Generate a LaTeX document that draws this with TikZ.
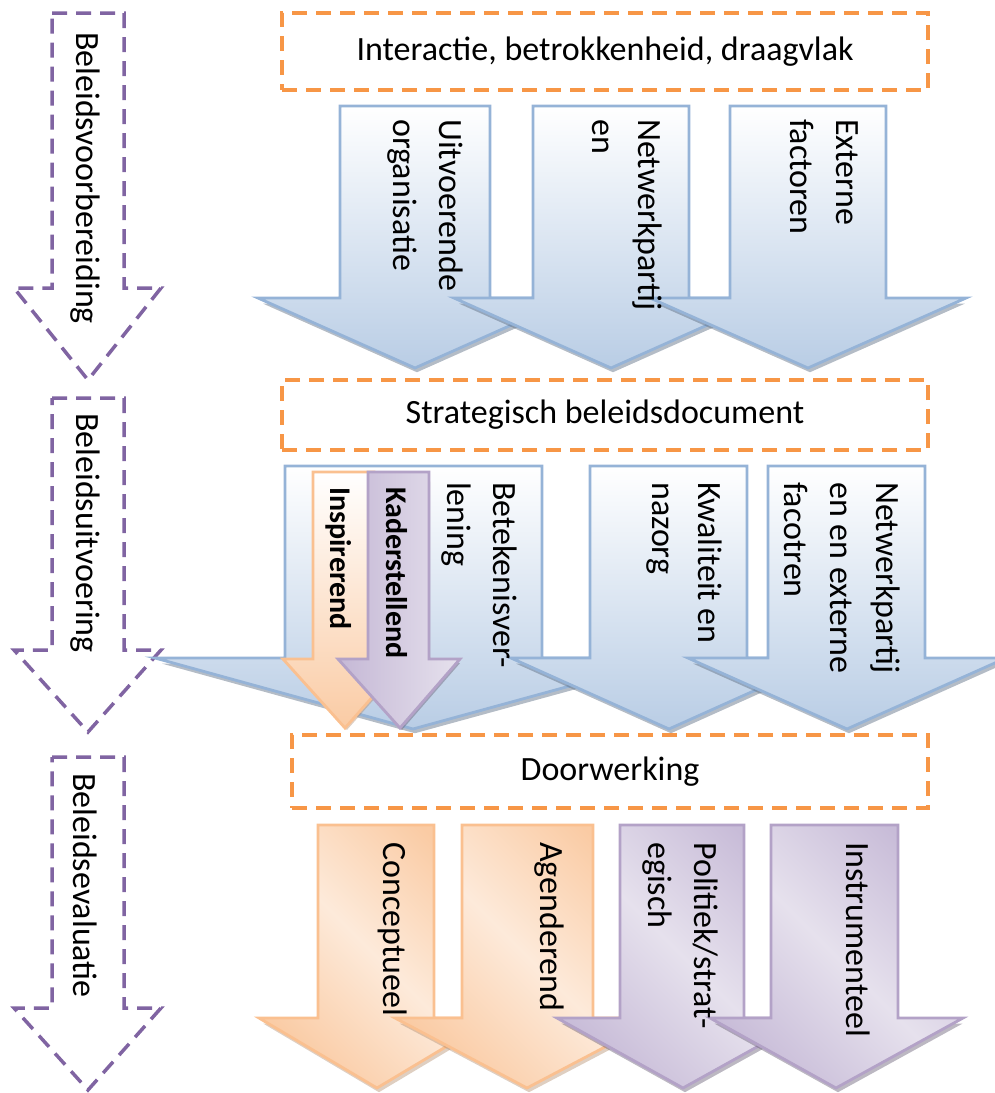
\documentclass[tikz,border=0pt]{standalone}
\usepackage{fontspec}
\setmainfont{Carlito}
\usetikzlibrary{shadows}
\definecolor{bluebd}{RGB}{149,179,215}
\definecolor{bluefill}{RGB}{185,205,229}
\definecolor{orangebd}{RGB}{250,192,144}
\definecolor{orangefill}{RGB}{250,203,164}
\definecolor{orangelight}{RGB}{253,234,218}
\definecolor{purplebd}{RGB}{179,162,199}
\definecolor{purplefill}{RGB}{200,188,216}
\definecolor{purplelight}{RGB}{230,225,237}
\definecolor{dashorange}{RGB}{247,150,70}
\definecolor{dashpurple}{RGB}{128,100,162}

\begin{document}
\begin{tikzpicture}[x=1pt,y=-1pt,
  fase/.style={draw=dashpurple,line width=3.5pt,dash pattern=on 15pt off 9pt},
  fasetekst/.style={rotate=-90,anchor=west,inner sep=0pt,font=\fontsize{34}{46}\selectfont},
  kader/.style={draw=dashorange,line width=3.5pt,dash pattern=on 15pt off 9pt,inner sep=0pt,
    font=\fontsize{34}{46}\selectfont},
  blauw/.style={draw=bluebd,line width=2.8pt,top color=white,bottom color=bluefill,
    drop shadow={shadow xshift=2pt,shadow yshift=-7pt,shadow scale=.98,opacity=.45,fill=bluebd!60!black}},
  oranje/.style={draw=orangebd,line width=2.8pt,left color=orangefill,right color=orangefill,
    middle color=orangelight,shading angle=135,
    drop shadow={shadow xshift=2pt,shadow yshift=-7pt,shadow scale=.98,opacity=.4,fill=orangebd!70!black}},
  paars/.style={draw=purplebd,line width=2.8pt,left color=purplefill,right color=purplefill,
    middle color=purplelight,shading angle=135,
    drop shadow={shadow xshift=2pt,shadow yshift=-7pt,shadow scale=.98,opacity=.45,fill=purplebd!60!black}},
  oranjeklein/.style={draw=orangebd,line width=2.8pt,top color=white,bottom color=orangefill,
    drop shadow={shadow xshift=2pt,shadow yshift=-6pt,shadow scale=.97,opacity=.4,fill=orangebd!70!black}},
  paarsklein/.style={draw=purplebd,line width=2.8pt,left color=purplefill!85!purplebd,right color=purplelight,
    drop shadow={shadow xshift=2pt,shadow yshift=-6pt,shadow scale=.97,opacity=.45,fill=purplebd!60!black}},
  pijltekst/.style={rotate=-90,anchor=north west,inner sep=0pt,align=left,font=\fontsize{34}{46}\selectfont},
  vet/.style={pijltekst,font=\fontsize{30}{40}\selectfont\bfseries}]
\useasboundingbox (0,0) rectangle (995,1093);

\draw[fase] (52,13) -- (124,13) -- (124,288) -- (161,288) -- (88,380) -- (14,288) -- (52,288) -- cycle;
\node[fasetekst] (voorbereiding) at (85,32) {Beleidsvoorbereiding};
\draw[fase] (52,398) -- (124,398) -- (124,650) -- (161,650) -- (88,732) -- (14,650) -- (52,650) -- cycle;
\node[fasetekst] (uitvoering) at (85,413) {Beleidsuitvoering};
\draw[fase] (52,757) -- (124,757) -- (124,1008) -- (161,1008) -- (88,1090) -- (14,1008) -- (52,1008) -- cycle;
\node[fasetekst] (evaluatie) at (85,773) {Beleidsevaluatie};

\node[kader,minimum width=646pt,minimum height=77pt] (interactie) at (605,51.5) {Interactie, betrokkenheid, draagvlak};
\node[kader,minimum width=646pt,minimum height=70pt] (strategisch) at (605,415) {Strategisch beleidsdocument};
\node[kader,minimum width=636pt,minimum height=73pt] (doorwerking) at (610,771.5) {Doorwerking};

\draw[blauw] (340,106) -- (490,106) -- (490,298) -- (572,298) -- (415,368) -- (258,298) -- (340,298) -- cycle;
\draw[blauw] (533,106) -- (689,106) -- (689,298) -- (768,298) -- (611,368) -- (454,298) -- (533,298) -- cycle;
\draw[blauw] (730,106) -- (886,106) -- (886,298) -- (966,298) -- (808,368) -- (650,298) -- (730,298) -- cycle;
\node[pijltekst] (uitvoerend) at (463,119) {Uitvoerende\\organisatie};
\node[pijltekst] (netwerk) at (662,119) {Netwerkpartij\\en};
\node[pijltekst] (extern) at (859,119) {Externe\\factoren};

\draw[blauw] (285,466) -- (542,466) -- (542,658) -- (672,658) -- (413,729) -- (155,658) -- (285,658) -- cycle;
\draw[blauw] (590,466) -- (747,466) -- (747,658) -- (827,658) -- (669,729) -- (511,658) -- (590,658) -- cycle;
\draw[blauw] (768,466) -- (925,466) -- (925,658) -- (1006,658) -- (847,729) -- (688,658) -- (768,658) -- cycle;
\draw[oranjeklein] (313,472) -- (374,472) -- (374,659) -- (406,659) -- (345,728) -- (283,659) -- (313,659) -- cycle;
\draw[paarsklein] (368,472) -- (429,472) -- (429,659) -- (460,659) -- (400,728) -- (338,659) -- (368,659) -- cycle;
\node[pijltekst] (betekenis) at (517,482) {Betekenisver-\\lening};
\node[pijltekst] (kwaliteit) at (722,482) {Kwaliteit en\\nazorg};
\node[pijltekst] (netwerkextern) at (900,482) {Netwerkpartij\\en en externe\\facotren};
\node[vet] (inspirerend) at (352,487) {Inspirerend};
\node[vet] (kaderstellend) at (408,487) {Kaderstellend};

\draw[oranje] (318,825) -- (434,825) -- (434,1018) -- (494,1018) -- (377,1088) -- (259,1018) -- (318,1018) -- cycle;
\draw[oranje] (462,825) -- (593,825) -- (593,1018) -- (660,1018) -- (527,1088) -- (395,1018) -- (462,1018) -- cycle;
\draw[paars] (620,825) -- (744,825) -- (744,1018) -- (809,1018) -- (683,1088) -- (557,1018) -- (620,1018) -- cycle;
\draw[paars] (771,825) -- (898,825) -- (898,1018) -- (963,1018) -- (836,1088) -- (710,1018) -- (771,1018) -- cycle;
\node[pijltekst] (conceptueel) at (407,842) {Conceptueel};
\node[pijltekst] (agenderend) at (564,842) {Agenderend};
\node[pijltekst] (politiek) at (718,842) {Politiek/strat-\\egisch};
\node[pijltekst] (instrumenteel) at (870,842) {Instrumenteel};
\end{tikzpicture}
\end{document}
